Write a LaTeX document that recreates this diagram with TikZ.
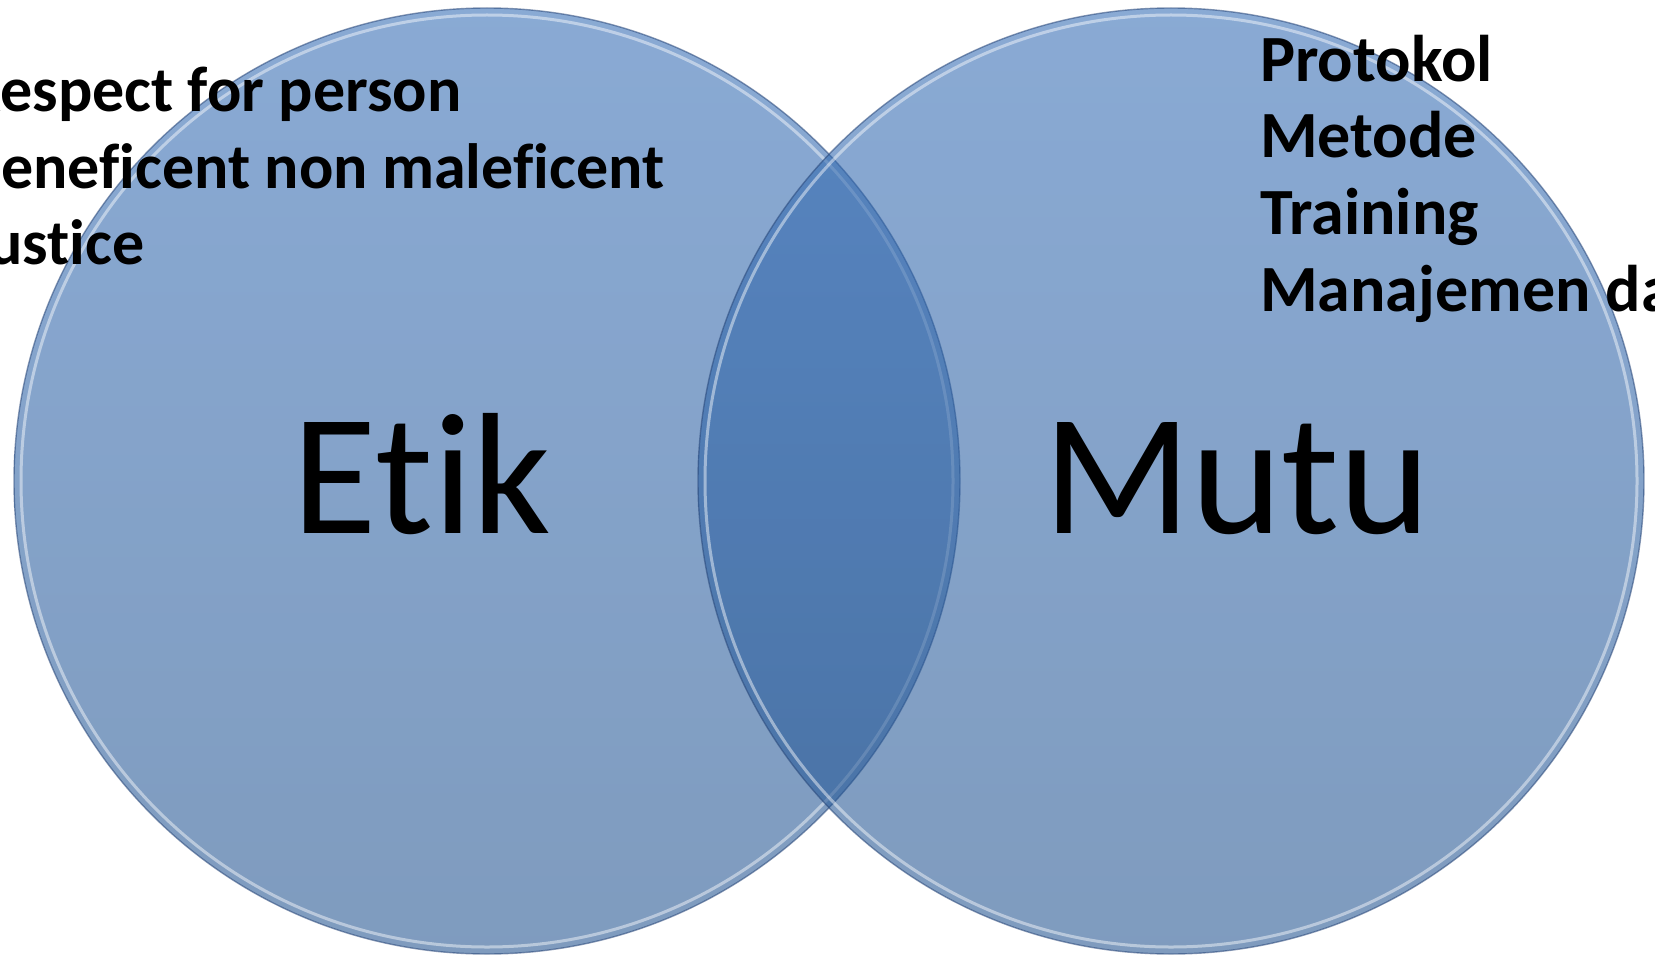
\documentclass[tikz,border=0pt]{standalone}
\usepackage{fontspec}
\setmainfont[Ligatures={NoCommon}]{Carlito}
\definecolor{discTop}{RGB}{52,108,181}
\definecolor{discBot}{RGB}{34,83,143}
\definecolor{discEdge}{RGB}{40,70,120}
\tikzset{
  disc/.style={top color=discTop, bottom color=discBot, fill opacity=0.58},
  discrim/.style={draw=white, draw opacity=0.45, line width=3pt},
  discedge/.style={draw=discEdge, draw opacity=0.55, line width=1.4pt},
  bigword/.style={anchor=base, inner sep=0pt, font=\fontsize{173}{200}\selectfont},
  listline/.style={anchor=base west, inner sep=0pt, font=\bfseries\fontsize{66}{76}\selectfont},
  listleft/.style={listline, font=\bfseries\fontsize{64}{76}\selectfont}
}
\begin{document}
\begin{tikzpicture}[x=1pt,y=-1pt]
\useasboundingbox (0,0) rectangle (1655,955);
\clip (0,0) rectangle (1655,955);
\coordinate (cL) at (487,481);
\coordinate (cR) at (1171,481);
% the two overlapping discs
\shade[disc] (cL) circle (473);
\draw[discrim] (cL) circle (466);
\draw[discedge] (cL) circle (473);
\shade[disc] (cR) circle (473);
\draw[discrim] (cR) circle (466);
\draw[discedge] (cR) circle (473);
% headings
\node[bigword] (etik) at (422,533) {Etik};
\node[bigword] (mutu) at (1237,533) {Mutu};
% principles of ethics
\node[listleft] (l1) at (-35,112) {Respect for person};
\node[listleft] (l2) at (-35,188) {Beneficent non maleficent};
\node[listleft] (l3) at (-33,264) {Justice};
% quality items
\node[listline] (r1) at (1260,82) {Protokol};
\node[listline] (r2) at (1260,158) {Metode};
\node[listline] (r3) at (1260,234) {Training};
\node[listline] (r4) at (1260,311) {Manajemen data};
\end{tikzpicture}
\end{document}
